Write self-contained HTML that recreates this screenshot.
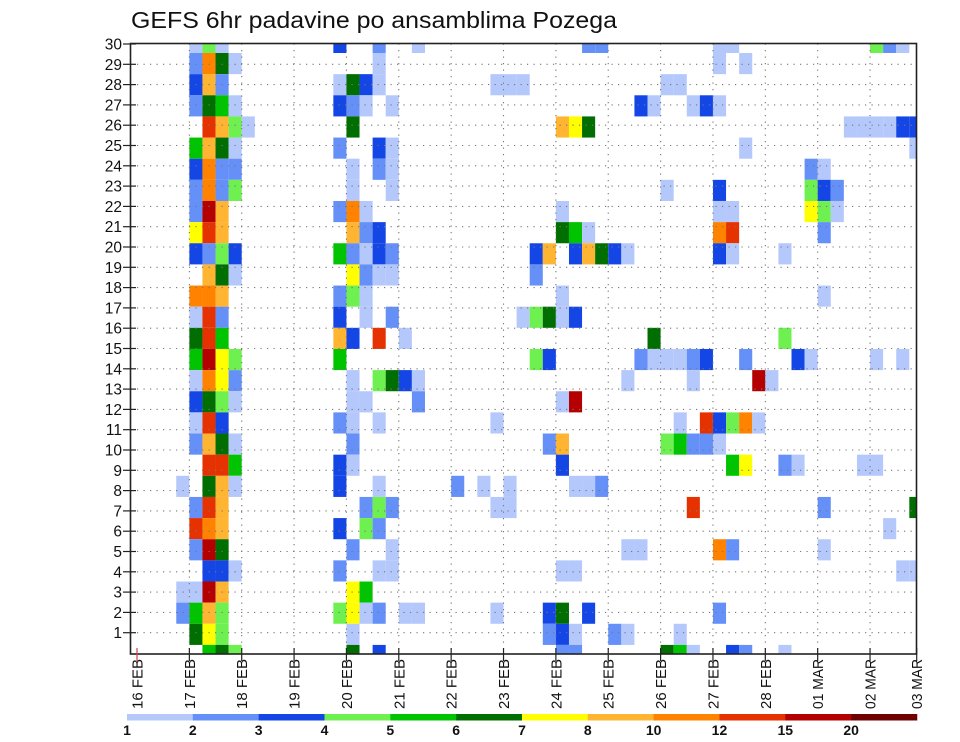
<!DOCTYPE html>
<html><head><meta charset="utf-8"><style>
html,body{margin:0;padding:0;background:#fff;}
svg{display:block;font-family:"Liberation Sans",sans-serif;}
</style></head><body>
<svg id="chart" width="960" height="742" viewBox="0 0 960 742" xmlns="http://www.w3.org/2000/svg">
<text x="131" y="28" font-size="23" fill="#111" textLength="486" lengthAdjust="spacingAndGlyphs">GEFS 6hr padavine po ansamblima Pozega</text>
<g id="cells"></g>
<g id="grid"></g>
<rect x="130.5" y="43.5" width="786" height="610.5" fill="none" stroke="#222" stroke-width="1.6"/>
<g id="yaxis"></g>
<g id="xaxis"></g>
<g id="legend"></g>
</svg>
<script>
// Category codes: a=1-2 b=2-3 c=3-4 d=4-5 e=5-6 f=6-7 g=7-8 h=8-10 i=10-12 j=12-15 k=15-20 l=20+
const legendLabels = ["1","2","3","4","5","6","7","8","10","12","15","20"];
const legendColors = ["#b4c8fc","#6490f8","#1446e6","#6ef050","#00c400","#006e00","#ffff00","#ffb432","#ff8200","#e63200","#b40000","#6e0000"];
const dayLabels = ["16 FEB","17 FEB","18 FEB","19 FEB","20 FEB","21 FEB","22 FEB","23 FEB","24 FEB","25 FEB","26 FEB","27 FEB","28 FEB","01 MAR","02 MAR","03 MAR"];
const memberLabels = [1,2,3,4,5,6,7,8,9,10,11,12,13,14,15,16,17,18,19,20,21,22,23,24,25,26,27,28,29,30];
// rows from top of plot; each entry "column(6h step)+category"
const rows = [
"4a 5d 6a 15c 18b 21a 34b 35b 44a 45a 56d 57b 58a",
"4b 5i 6f 7a 18a 44a 46a",
"4c 5h 6b 15a 16f 17c 18a 27a 28a 29a 40a 41a",
"4b 5f 6e 7a 15c 16b 17a 19a 38c 39a 42a 43c 44a",
"5j 6h 7d 8a 16f 32h 33g 34f 54a 55a 56a 57a 58c 59c",
"4e 5h 6f 7a 15b 18c 19a 46a 59a",
"4c 5i 6b 7b 16a 18b 19a 51b 52a",
"4b 5i 6b 7d 16a 19a 40a 44c 51d 52c 53b",
"4b 5k 6h 15b 16i 17a 32a 44a 45a 51g 52d 53a",
"4g 5j 6h 16h 17b 18c 32f 33e 34a 44i 45j 52b",
"4c 5b 6d 7c 15e 16b 17a 18c 19b 30c 31h 33c 34h 35f 36c 37a 44c 45a 49a",
"5h 6f 7a 16g 17b 18a 19a 30b",
"4i 5i 6h 15b 16d 17a 32a 52a",
"4a 5j 6b 15c 17a 19b 29a 30d 31f 32a 33c",
"4f 5j 6e 15h 16c 18j 20a 39f 49d",
"4e 5k 6g 7d 15e 30d 31c 38b 39a 40a 41a 42b 43c 46b 50c 51a 56a 58a",
"4a 5i 6g 7b 16a 18d 19f 20c 21a 37a 42a 47k 48a",
"4c 5f 6d 7a 16a 17a 21b 32a 33k",
"4a 5j 6c 15b 16a 18a 27a 41a 43j 44c 45d 46i 47a",
"4b 5h 6f 7a 16b 31b 32h 40d 41e 42b 43b 44a",
"5j 6j 7e 15c 16a 32c 45e 46g 49b 50a 55a 56a",
"3a 5f 6h 7a 15c 18a 24b 26a 28a 33a 34a 35b",
"4b 5j 6h 17b 18d 19b 27a 28a 42j 52b 59f",
"4j 5i 6h 15c 17d 18b 57a",
"4b 5k 6f 16b 19a 37a 38a 44i 45b 52a",
"5c 6c 7a 15b 18a 19a 32a 33a 58a 59a",
"3a 4a 5k 6h 16g 17e",
"3b 4e 5h 6d 15d 16g 17a 18b 20a 21a 27a 31c 32f 34c 44b",
"4f 5g 6d 16a 31b 32c 33a 36b 37a 41a",
"5e 6f 7d 16f 18c 32b 33b 40f 41e 42a 45c 46b 49a"
];
const NS="http://www.w3.org/2000/svg";
const L=130.5,R=916.5,T=43.5,B=654;
function xCol(k){return 137+13.09*k;}
function yRow(i){return 53+21.14*(i-1);}
function xDay(d){return 137+52.36*d;}
function yMember(m){return 44+20.3*(30-m);}
function mk(tag,attrs,parent){const e=document.createElementNS(NS,tag);for(const a in attrs)e.setAttribute(a,attrs[a]);parent.appendChild(e);return e;}
const cells=document.getElementById('cells');
rows.forEach((r,i)=>{
  r.split(' ').forEach(tok=>{
    const k=parseInt(tok,10);const c=tok.charCodeAt(tok.length-1)-97;
    let x=xCol(k),x2=xCol(k+1),y=yRow(i),y2=yRow(i+1);
    x=Math.max(x,L);x2=Math.min(x2,R);y=Math.max(y,T);y2=Math.min(y2,B);
    const el=mk('rect',{x:x,y:y,width:x2-x,height:y2-y,fill:legendColors[c]},cells);
    
    
  });
});
const grid=document.getElementById('grid');
memberLabels.forEach(m=>{
  if(m===30)return;
  const y=yMember(m);
  const el=mk('line',{x1:L,x2:R,y1:y,y2:y,stroke:'#777','stroke-width':1.1,'stroke-dasharray':'1.2 5.3'},grid);
  
  
});
dayLabels.forEach((d,i)=>{
  const x=xDay(i);if(i===0||x>R-2)return;
  const el=mk('line',{x1:x,x2:x,y1:T,y2:B,stroke:'#777','stroke-width':1.1,'stroke-dasharray':'1.2 5.3'},grid);
  
  
});
const ya=document.getElementById('yaxis');
memberLabels.forEach(m=>{
  const y=yMember(m);
  const t=mk('line',{x1:123,x2:136,y1:y,y2:y,stroke:'#222','stroke-width':1.2},ya);
  
  
  const tx=mk('text',{x:122,y:y+5.5,'font-size':15.5,'text-anchor':'end',fill:'#111'},ya);
  tx.textContent=m;
  
  
});
const xa=document.getElementById('xaxis');
dayLabels.forEach((d,i)=>{
  let x=xDay(i);if(x>916.7)x=916.7;
  const t=mk('line',{x1:x,x2:x,y1:648,y2:661,stroke:i===0?'#c44':'#222','stroke-width':1.2},xa);
  
  
  const tx=mk('text',{x:0,y:0,'font-size':15,fill:'#111',transform:'translate('+(x+5.5)+',709) rotate(-90)',textLength:50,lengthAdjust:'spacingAndGlyphs'},xa);
  tx.textContent=d;
  
  
});
const lg=document.getElementById('legend');
const lx0=127,lw=65.83;
legendColors.forEach((c,i)=>{
  const r=mk('rect',{x:lx0+lw*i,y:714,width:lw+0.3,height:6.5,fill:c},lg);
  
  
});
legendLabels.forEach((s,i)=>{
  const t=mk('text',{x:lx0+lw*i,y:735,'font-size':14,'font-weight':'bold','text-anchor':'middle',fill:'#111'},lg);
  t.textContent=s;
  
  
});
</script>
</body></html>
